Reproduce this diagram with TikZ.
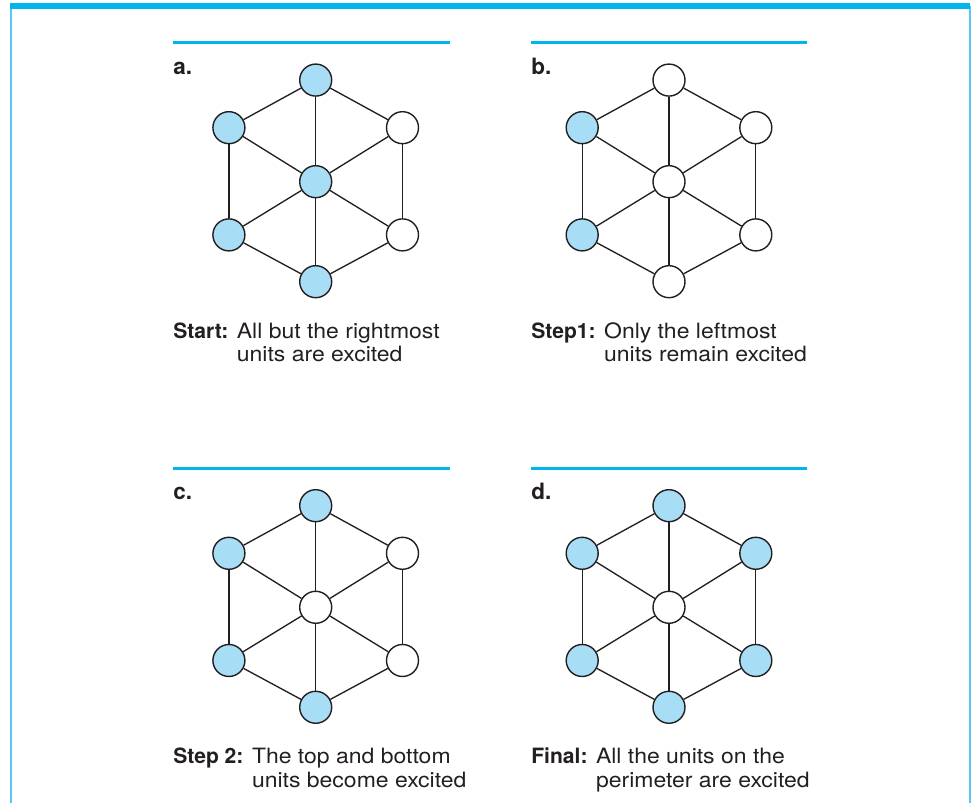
\documentclass[tikz,border=0pt]{standalone}
\usepackage{fontspec}
\setmainfont{TeX Gyre Heros}
\newfontfamily\capfont[FakeStretch=1.09]{TeX Gyre Heros}
\usepackage{tikz}
\usepackage{xcolor}

\definecolor{barcyan}{HTML}{00B4EE}
\definecolor{sidecyan}{HTML}{55C9F3}
\definecolor{unitblue}{HTML}{A8DDF6}
\definecolor{ink}{HTML}{231F20}

\tikzset{
  unit/.style={circle, draw=ink, line width=1pt, minimum size=0.8cm, inner sep=0pt},
  excited/.style={unit, fill=unitblue},
  idle/.style={unit, fill=white},
  link/.style={draw=ink, line width=0.95pt},
  sepline/.style={barcyan, line width=0.0875cm},
  tag/.style={anchor=base west, inner sep=0pt, text=ink, font=\fontsize{16}{17}\selectfont\bfseries},
  captext/.style={anchor=base west, inner sep=0pt, text=ink, font=\capfont\fontsize{15}{16.5}\selectfont},
}

% seven units: top, upper left, upper right, centre, lower left, lower right, bottom
\newcommand{\unitnet}[7]{%
  \node[#1] (t)  at (0,2.54)      {};
  \node[#2] (ul) at (-2.17,1.35)  {};
  \node[#3] (ur) at (2.17,1.35)   {};
  \node[#4] (c)  at (0,0)         {};
  \node[#5] (ll) at (-2.17,-1.33) {};
  \node[#6] (lr) at (2.17,-1.33)  {};
  \node[#7] (b)  at (0,-2.5)      {};
  % perimeter
  \draw[link] (t) -- (ul);  \draw[link] (ul) -- (ll);
  \draw[link] (ll) -- (b);  \draw[link] (b) -- (lr);
  \draw[link] (lr) -- (ur); \draw[link] (ur) -- (t);
  % spokes
  \draw[link] (t) -- (c);   \draw[link] (b) -- (c);
  \draw[link] (ul) -- (c);  \draw[link] (ur) -- (c);
  \draw[link] (ll) -- (c);  \draw[link] (lr) -- (c);
}
\newcommand{\lead}[1]{{\rmfamily\bfseries #1}}

\begin{document}
\begin{tikzpicture}
\useasboundingbox (0,0) rectangle (24.35,20.075);

% Frame
\draw[sidecyan, line width=0.05cm] (0.2825,19.92) -- (0.2825,0);
\draw[sidecyan, line width=0.05cm] (24.2375,19.92) -- (24.2375,0);
\draw[barcyan, line width=0.1575cm] (0.25,19.921) -- (24.25,19.921);

% Panel a: start
\begin{scope}[shift={(4.325,19.0075)}, name prefix=a-]
    \draw[sepline] (0,0) -- (6.925,0);
    \node[tag] (tag) at (0,-0.79) {a.};
    \begin{scope}[shift={(3.5675,-3.475)}]
        \unitnet{excited}{excited}{idle}{excited}{excited}{idle}{excited}
    \end{scope}
    \node[captext] (cap) at (0,-7.39) {\begin{tabular}[t]{@{}l@{ }l@{}}
        \lead{Start:} & All but the rightmost\\ & units are excited\end{tabular}};
\end{scope}

% Panel b: step 1
\begin{scope}[shift={(13.275,19.0075)}, name prefix=b-]
    \draw[sepline] (0,0) -- (6.91,0);
    \node[tag] (tag) at (0,-0.79) {b.};
    \begin{scope}[shift={(3.45,-3.475)}]
        \unitnet{idle}{excited}{idle}{idle}{excited}{idle}{idle}
    \end{scope}
    \node[captext] (cap) at (0,-7.39) {\begin{tabular}[t]{@{}l@{ }l@{}}
        \lead{Step1:} & Only the leftmost\\ & units remain excited\end{tabular}};
\end{scope}

% Panel c: step 2
\begin{scope}[shift={(4.325,8.3675)}, name prefix=c-]
    \draw[sepline] (0,0) -- (6.925,0);
    \node[tag] (tag) at (0,-0.79) {c.};
    \begin{scope}[shift={(3.5675,-3.475)}]
        \unitnet{excited}{excited}{idle}{idle}{excited}{idle}{excited}
    \end{scope}
    \node[captext] (cap) at (0,-7.39) {\begin{tabular}[t]{@{}l@{ }l@{}}
        \lead{Step 2:} & The top and bottom\\ & units become excited\end{tabular}};
\end{scope}

% Panel d: final
\begin{scope}[shift={(13.275,8.3675)}, name prefix=d-]
    \draw[sepline] (0,0) -- (6.91,0);
    \node[tag] (tag) at (0,-0.79) {d.};
    \begin{scope}[shift={(3.45,-3.475)}]
        \unitnet{excited}{excited}{excited}{idle}{excited}{excited}{excited}
    \end{scope}
    \node[captext] (cap) at (0,-7.39) {\begin{tabular}[t]{@{}l@{ }l@{}}
        \lead{Final:} & All the units on the\\ & perimeter are excited\end{tabular}};
\end{scope}
\end{tikzpicture}
\end{document}
